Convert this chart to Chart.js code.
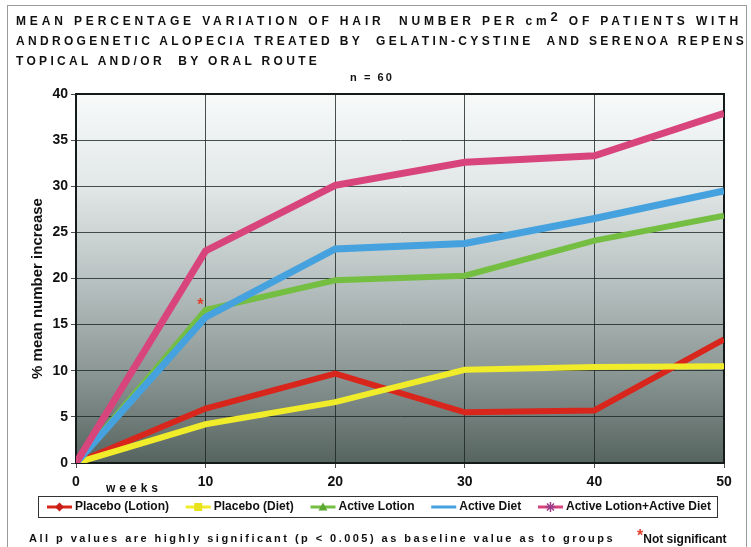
<!DOCTYPE html>
<html>
<head>
<meta charset="utf-8">
<script src="https://cdn.jsdelivr.net/npm/chart.js@4.4.1/dist/chart.umd.min.js"></script>
<style>
  html, body { margin: 0; padding: 0; background: #fff; }
  #wrap { position: relative; width: 751px; height: 547px; overflow: hidden; font-family: "Liberation Sans", Arial, sans-serif; color: #111; }
  #frame { position: absolute; left: 7px; top: 5px; width: 740px; height: 560px; border: 1px solid #9a9a9a; box-sizing: border-box; }
  #chart { position: absolute; left: 0; top: 0; }
  .txt { position: absolute; white-space: pre; font-weight: bold; line-height: 14px; }
  .title { left: 16px; font-size: 12px; }
  sup { font-size: 13px; line-height: 0; position: relative; top: 1px; }
</style>
</head>
<body>
<div id="wrap">
  <div id="frame"></div>
  <canvas id="chart" width="751" height="547"></canvas>
  <div class="txt title" id="t1" style="top:14px">MEAN PERCENTAGE VARIATION OF HAIR  NUMBER PER cm<sup>2</sup> OF PATIENTS WITH</div>
  <div class="txt title" id="t2" style="top:34px">ANDROGENETIC ALOPECIA TREATED BY  GELATIN-CYSTINE  AND SERENOA REPENS</div>
  <div class="txt title" id="t3" style="top:54px">TOPICAL AND/OR  BY ORAL ROUTE</div>
  <div class="txt" id="nlab" style="left:350px; top:70px; font-size:11px;">n = 60</div>
  <div class="txt" id="weeks" style="left:106px; top:481px; font-size:12px;">weeks</div>
  <div class="txt" id="foot" style="left:29px; top:531px; font-size:11px;">All p values are highly significant (p &lt; 0.005) as baseline value as to groups</div>
  <div class="txt" id="ns" style="left:637px; top:531px; font-size:12px;"><span style="color:#e0402a; font-size:16px; position:relative; top:-2px;">*</span>Not significant</div>
</div>
<script>
// ── Datos ──
const weeks = [0, 10, 20, 30, 40, 50];
const seriesLabels = ['Placebo (Lotion)', 'Placebo (Diet)', 'Active Lotion', 'Active Diet', 'Active Lotion+Active Diet'];
const placeboLotion = [0, 5.9, 9.7, 5.5, 5.7, 13.4];
const placeboDiet = [0, 4.2, 6.6, 10.1, 10.4, 10.5];
const activeLotion = [0, 16.6, 19.8, 20.3, 24.1, 26.8];
const activeDiet = [0, 15.8, 23.2, 23.8, 26.5, 29.5];
const activeBoth = [0, 23.0, 30.1, 32.6, 33.3, 37.9];
const xTicks = [0, 10, 20, 30, 40, 50];
const yTicks = [0, 5, 10, 15, 20, 25, 30, 35, 40];
const yTitle = '% mean number increase';
const notSignificant = { x: 9.6, y: 17.4, text: '*' };

// ── Estilos ──
const styles = [
  { color: '#d8261d', width: 6, marker: 'rectRot', markColor: '#c81e18' },
  { color: '#f0ec2a', width: 6, marker: 'rect', markColor: '#e8e21c' },
  { color: '#74be42', width: 6, marker: 'triangle', markColor: '#5aa832' },
  { color: '#45a2de', width: 7, marker: 'dash', markColor: '#45a2de' },
  { color: '#d8457c', width: 7, marker: 'star', markColor: '#9a3c8a' },
];
const allSeries = [placeboLotion, placeboDiet, activeLotion, activeDiet, activeBoth];
const FONT = '"Liberation Sans", Arial, sans-serif';

// ajustar espaciado de letras al ancho del original
function fitWidth(id, target) {
  const el = document.getElementById(id);
  const n = el.textContent.length;
  el.style.letterSpacing = '0px';
  const w = el.getBoundingClientRect().width;
  const ls = (target - w) / n;
  el.style.letterSpacing = ls + 'px';
  return ls;
}
const ls2 = fitWidth('t2', 731);
fitWidth('t1', 726);
document.getElementById('t3').style.letterSpacing = ls2 + 'px';
fitWidth('foot', 586);
fitWidth('weeks', 56);
fitWidth('nlab', 44);

const datasets = allSeries.map((vals, i) => ({
  label: seriesLabels[i],
  data: weeks.map((w, j) => ({ x: w, y: vals[j] })),
  borderColor: styles[i].color,
  backgroundColor: styles[i].color,
  borderWidth: styles[i].width,
  pointRadius: 0,
  tension: 0,
  order: allSeries.length - i,
}));

function drawMarker(ctx, type, x, y, color) {
  ctx.save();
  ctx.fillStyle = color;
  ctx.strokeStyle = color;
  ctx.lineWidth = 1.5;
  ctx.beginPath();
  if (type === 'rectRot') {
    ctx.moveTo(x, y - 4.5); ctx.lineTo(x + 4.5, y); ctx.lineTo(x, y + 4.5); ctx.lineTo(x - 4.5, y); ctx.closePath(); ctx.fill();
  } else if (type === 'rect') {
    ctx.fillRect(x - 4, y - 4, 8, 8);
  } else if (type === 'triangle') {
    ctx.moveTo(x, y - 4.5); ctx.lineTo(x + 4.5, y + 3.5); ctx.lineTo(x - 4.5, y + 3.5); ctx.closePath(); ctx.fill();
  } else if (type === 'dash') {
    ctx.moveTo(x - 4, y); ctx.lineTo(x + 4, y); ctx.stroke();
  } else if (type === 'star') {
    for (let a = 0; a < 4; a++) {
      const ang = a * Math.PI / 4;
      ctx.moveTo(x - 5 * Math.cos(ang), y - 5 * Math.sin(ang));
      ctx.lineTo(x + 5 * Math.cos(ang), y + 5 * Math.sin(ang));
    }
    ctx.stroke();
  }
  ctx.restore();
}

const areaPlugin = {
  id: 'area',
  beforeDraw(chart) {
    const { ctx, chartArea: a } = chart;
    const g = ctx.createLinearGradient(0, a.top, 0, a.bottom);
    g.addColorStop(0, '#f8fafa');
    g.addColorStop(0.25, '#e2e7e7');
    g.addColorStop(0.5, '#b9c2c2');
    g.addColorStop(0.75, '#8c9896');
    g.addColorStop(1, '#56645f');
    ctx.save();
    ctx.fillStyle = g;
    ctx.fillRect(a.left, a.top, a.right - a.left, a.bottom - a.top);
    ctx.restore();
  },
  beforeDatasetsDraw(chart) {
    const { ctx, chartArea: a } = chart;
    ctx.save();
    ctx.strokeStyle = '#151b1a';
    ctx.lineWidth = 2;
    ctx.strokeRect(a.left, a.top, a.right - a.left, a.bottom - a.top);
    // título del eje Y
    ctx.translate(38, (a.top + a.bottom) / 2 + 10);
    ctx.rotate(-Math.PI / 2);
    ctx.fillStyle = '#111';
    ctx.font = 'bold 15px ' + FONT;
    ctx.textAlign = 'center';
    ctx.textBaseline = 'middle';
    ctx.fillText(yTitle, 0, 0);
    ctx.restore();
  },
  afterDatasetsDraw(chart) {
    const { ctx, scales } = chart;
    ctx.save();
    ctx.fillStyle = '#e0402a';
    ctx.font = 'bold 16px ' + FONT;
    ctx.textAlign = 'center';
    ctx.textBaseline = 'middle';
    ctx.fillText(notSignificant.text, scales.x.getPixelForValue(notSignificant.x), scales.y.getPixelForValue(notSignificant.y) + 3);
    ctx.restore();
  },
  afterDraw(chart) {
    // leyenda con línea + marcador
    const ctx = chart.ctx;
    const box = { x: 38, y: 496, w: 679, h: 21 };
    ctx.save();
    ctx.fillStyle = '#fff';
    ctx.fillRect(box.x, box.y, box.w, box.h);
    ctx.strokeStyle = '#333';
    ctx.lineWidth = 1;
    ctx.strokeRect(box.x + 0.5, box.y + 0.5, box.w, box.h);
    ctx.font = 'bold 12px ' + FONT;
    ctx.textBaseline = 'middle';
    const sampleW = 25, textGap = 3;
    const widths = seriesLabels.map(t => ctx.measureText(t).width);
    const startX = 47, endX = 711;
    const used = widths.reduce((s, w) => s + w + sampleW + textGap, 0);
    const gap = (endX - startX - used) / (seriesLabels.length - 1);
    let x = startX;
    const cy = box.y + box.h / 2 + 0.5;
    seriesLabels.forEach((t, i) => {
      ctx.strokeStyle = styles[i].color;
      ctx.lineWidth = 3;
      ctx.beginPath();
      ctx.moveTo(x, cy);
      ctx.lineTo(x + sampleW, cy);
      ctx.stroke();
      drawMarker(ctx, styles[i].marker, x + sampleW / 2, cy, styles[i].markColor);
      ctx.fillStyle = '#111';
      ctx.fillText(t, x + sampleW + textGap, cy);
      x += sampleW + textGap + widths[i] + gap;
    });
    ctx.restore();
  },
};

const gridColor = 'rgba(28, 38, 36, 0.8)';

new Chart(document.getElementById('chart'), {
  type: 'line',
  data: { datasets },
  plugins: [areaPlugin],
  options: {
    responsive: false,
    animation: false,
    devicePixelRatio: 1,
    layout: { padding: { left: 0, top: 94, right: 27, bottom: 54 } },
    plugins: { legend: { display: false }, tooltip: { enabled: false } },
    scales: {
      x: {
        type: 'linear',
        min: xTicks[0],
        max: xTicks[xTicks.length - 1],
        afterBuildTicks: s => { s.ticks = xTicks.map(v => ({ value: v })); },
        afterFit: s => { s.height = 30; },
        ticks: { color: '#111', font: { family: FONT, size: 14, weight: 'bold' }, padding: 6, maxRotation: 0 },
        grid: { color: gridColor, lineWidth: 1, tickLength: 5 },
        border: { color: '#151b1a', width: 2 },
      },
      y: {
        min: yTicks[0],
        max: yTicks[yTicks.length - 1],
        afterBuildTicks: s => { s.ticks = yTicks.map(v => ({ value: v })); },
        afterFit: s => { s.width = 76; },
        ticks: { color: '#111', font: { family: FONT, size: 14, weight: 'bold' }, padding: 3 },
        grid: { color: gridColor, lineWidth: 1, tickLength: 5 },
        border: { color: '#151b1a', width: 2 },
      },
    },
  },
});
</script>
</body>
</html>
